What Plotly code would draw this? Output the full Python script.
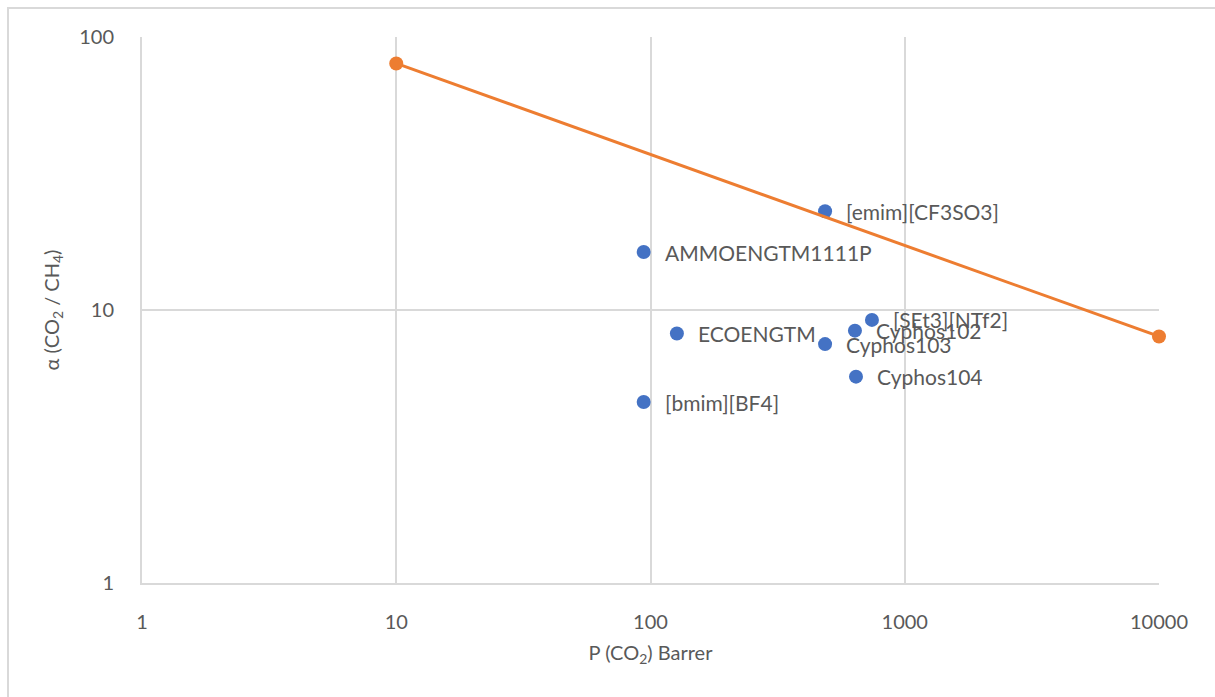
import math
import plotly.graph_objects as go

# Ionic liquid membranes: CO2 permeability vs CO2/CH4 selectivity
names = ["[emim][CF3SO3]", "AMMOENGTM1111P", "ECOENGTM", "[SEt3][NTf2]",
         "Cyphos102", "Cyphos103", "Cyphos104", "[bmim][BF4]"]
perm = [486, 94, 127, 743, 637, 486, 643, 94]
selec = [23.0, 16.3, 8.2, 9.2, 8.4, 7.5, 5.7, 4.6]

# Upper bound line
bound_p = [10, 10000]
bound_a = [80, 8]

x_ticks = [1, 10, 100, 1000, 10000]
y_ticks = [1, 10, 100]

text_color = "#595959"
grid_color = "#D9D9D9"
font_family = "Lato, Carlito, Calibri, sans-serif"

fig = go.Figure()
fig.add_trace(go.Scatter(
    x=perm, y=selec, mode="markers",
    marker=dict(color="#4472C4", size=14),
    showlegend=False, hoverinfo="text", text=names, cliponaxis=False,
))
fig.add_trace(go.Scatter(
    x=bound_p, y=bound_a, mode="lines+markers",
    line=dict(color="#ED7D31", width=3),
    marker=dict(color="#ED7D31", size=14),
    showlegend=False, cliponaxis=False,
))

# point labels (annotation coordinates on log axes are given in log10 units)
for n, px, py in zip(names, perm, selec):
    fig.add_annotation(x=math.log10(px), y=math.log10(py), xref="x", yref="y", text=n,
                       showarrow=False, xanchor="left", yanchor="middle",
                       xshift=19, font=dict(size=21, color=text_color, family=font_family))

axis_common = dict(
    type="log", showgrid=True, gridcolor=grid_color, gridwidth=2,
    showline=True, linecolor=grid_color, linewidth=2, mirror=False,
    zeroline=False, ticks="", tickfont=dict(size=20, color=text_color, family=font_family),
)

fig.update_xaxes(
    **axis_common, range=[0, 4], tickvals=x_ticks, ticktext=[str(v) for v in x_ticks],
    ticklabelstandoff=20,
    title=dict(text="P (CO<sub>2</sub>) Barrer", font=dict(size=20, color=text_color, family=font_family), standoff=14),
)
fig.update_yaxes(
    **axis_common, range=[0, 2], tickvals=y_ticks, ticktext=[str(v) for v in y_ticks],
    ticklabelstandoff=22,
    title=dict(text="α (CO<sub>2</sub> / CH<sub>4</sub>)", font=dict(size=20, color=text_color, family=font_family), standoff=14),
)

# outer chart border
fig.add_shape(type="rect", xref="paper", yref="paper",
              x0=(8 - 142) / 1017, x1=(1240 - 142) / 1017,
              y0=-(720 - 583) / 546, y1=1 + (37 - 8) / 546,
              line=dict(color="#D9D9D9", width=2), layer="below")

fig.update_layout(
    width=1215, height=697,
    margin=dict(l=142, r=56, t=37, b=114),
    paper_bgcolor="white", plot_bgcolor="white",
    font=dict(family=font_family, color=text_color),
)

fig.write_html("out.html")
